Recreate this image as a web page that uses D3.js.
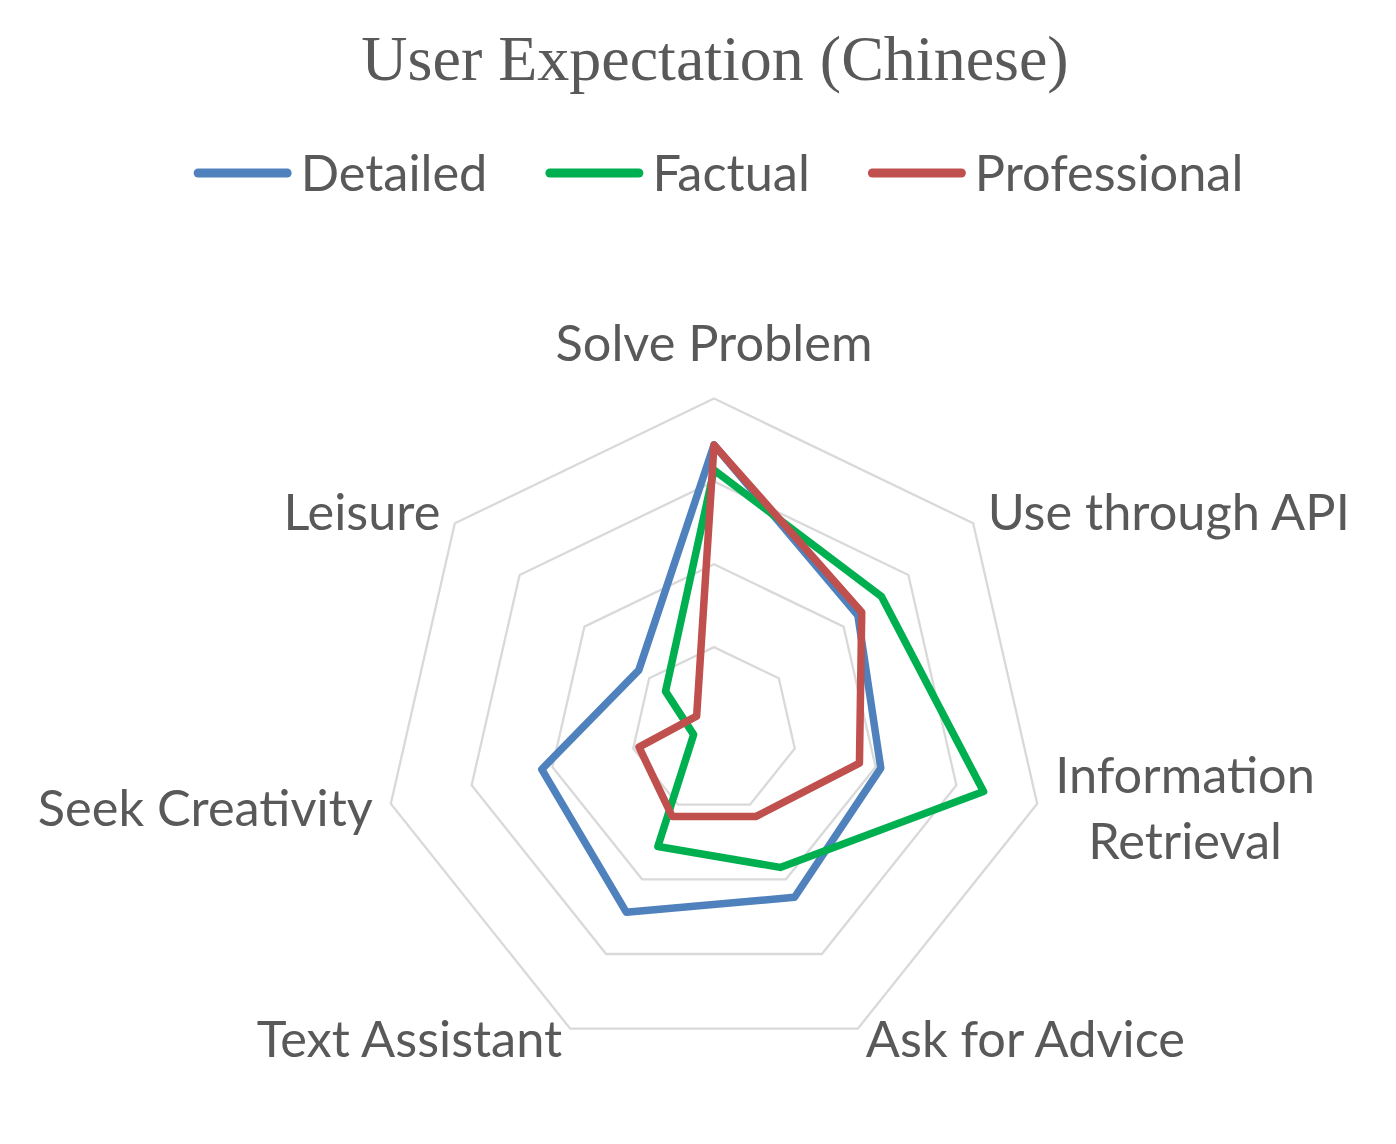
<!DOCTYPE html>
<html><head><meta charset="utf-8">
<script src="https://cdn.jsdelivr.net/npm/d3@7"></script>
<style>body{margin:0;background:#fff}svg{display:block}</style>
</head><body>
<svg id="c" width="1396" height="1144"></svg>
<script>
const categories = ["Solve Problem","Use through API","Information Retrieval","Ask for Advice","Text Assistant","Seek Creativity","Leisure"];
const seriesNames = ["Detailed","Factual","Professional"];
const detailed     = [0.86, 0.555, 0.516, 0.56, 0.61, 0.533, 0.29];
const factual      = [0.784, 0.646, 0.834, 0.46, 0.39, 0.063, 0.187];
const professional = [0.86, 0.57, 0.45, 0.29, 0.29, 0.232, 0.067];
const gridTicks = [0.25, 0.5, 0.75, 1.0];
const colors = ["#4F81BD", "#00B050", "#C0504D"];
const seriesValues = [detailed, factual, professional];

const svg = d3.select("#c");
const cx = 714, cy = 730, R = 331.5;
const n = categories.length;
const r = d3.scaleLinear().domain([0, 1]).range([0, R]);
const ang = d3.scaleLinear().domain([0, n]).range([0, 2 * Math.PI]);
const textColor = "#595959";
const sans = "Lato, 'Open Sans', sans-serif";

// title
svg.append("text").attr("x", 715).attr("y", 80).attr("text-anchor", "middle")
  .attr("font-family", "'Liberation Serif', 'Times New Roman', serif")
  .attr("font-size", 64).attr("fill", textColor).text("User Expectation (Chinese)");

const g = svg.append("g").attr("transform", `translate(${cx},${cy})`);

// grid
const radial = d3.lineRadial().curve(d3.curveLinearClosed);
g.selectAll("path.grid").data(gridTicks).join("path").attr("class", "grid")
  .attr("d", t => radial(categories.map((c, i) => [ang(i), r(t)])))
  .attr("fill", "none").attr("stroke", "#D9D9D9").attr("stroke-width", 2.3);

// series
g.selectAll("path.series").data(seriesValues).join("path").attr("class", "series")
  .attr("d", vals => radial(vals.map((v, i) => [ang(i), r(v)])))
  .attr("fill", "none").attr("stroke", (d, i) => colors[i])
  .attr("stroke-width", 7.5).attr("stroke-linejoin", "round").attr("stroke-linecap", "round");

// axis labels
const fs = 50.5, lh = 66, pad = 18.5;
categories.forEach((c, i) => {
  const a = ang(i);
  const s = Math.sin(a), co = Math.cos(a);
  const lines = c === "Information Retrieval" ? ["Information", "Retrieval"] : [c];
  let x = (R + pad) * s;
  let y = -(R + pad) * co;
  if (co > 0.9) y -= 37;
  if (co < -0.8) y -= 7;
  const lg = g.append("g");
  const texts = lines.map((l, k) => lg.append("text")
    .attr("font-family", sans).attr("font-size", fs).attr("fill", textColor)
    .attr("text-anchor", "middle").attr("dy", "0.36em")
    .attr("y", y + (k - (lines.length - 1) / 2) * lh).text(l));
  const bw = d3.max(texts, t => t.node().getComputedTextLength());
  let mid;
  if (s > 0.1) mid = x + bw / 2; else if (s < -0.1) mid = x - bw / 2; else mid = x;
  texts.forEach(t => t.attr("x", mid));
});

// legend
const lineLen = 98, lw = 9, textOff = 107, itemGap = 58, ly = 173;
const leg = svg.append("g");
let items = seriesNames.map((name, i) => {
  const ig = leg.append("g");
  ig.append("line").attr("x1", lw / 2).attr("x2", lineLen - lw / 2).attr("y1", ly).attr("y2", ly)
    .attr("stroke", colors[i]).attr("stroke-width", lw).attr("stroke-linecap", "round");
  const t = ig.append("text").attr("x", textOff).attr("y", ly).attr("dy", "0.36em")
    .attr("font-family", sans).attr("font-size", fs).attr("fill", textColor).text(name);
  return {ig, w: textOff + t.node().getComputedTextLength()};
});
const total = d3.sum(items, d => d.w) + itemGap * (items.length - 1);
let xx = 718.5 - total / 2;
items.forEach(it => { it.ig.attr("transform", `translate(${xx},0)`); xx += it.w + itemGap; });
</script>
</body></html>
